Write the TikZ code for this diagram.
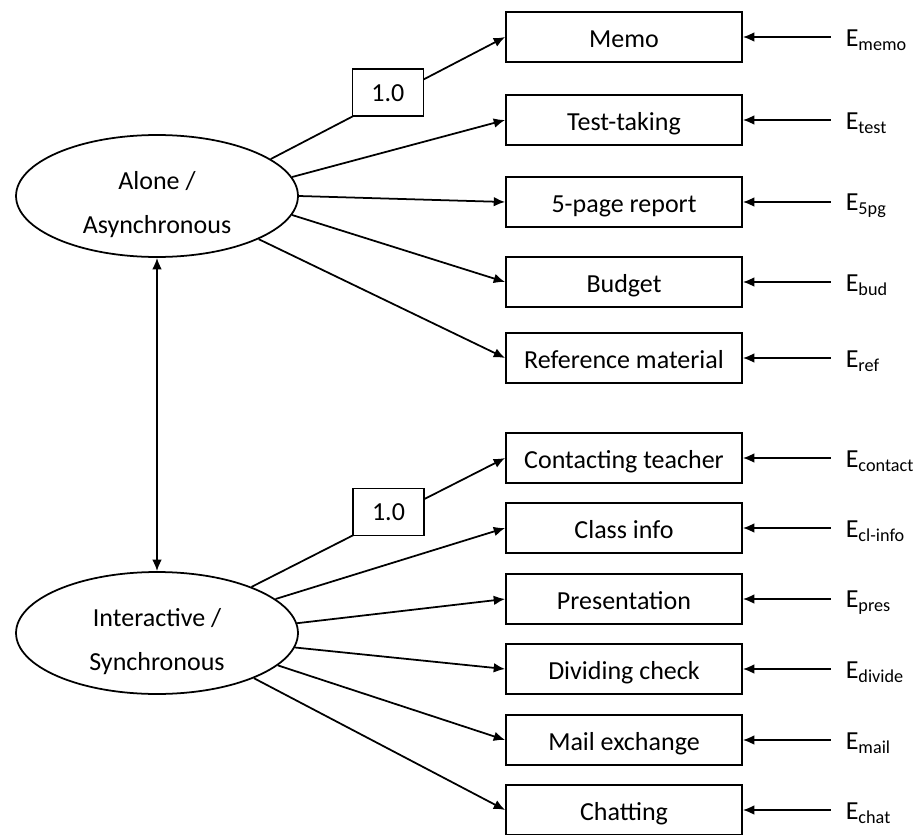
\documentclass[tikz,border=0pt]{standalone}
\usepackage{fontspec}
\setmainfont{Carlito}
\usetikzlibrary{arrows,arrows.meta}
\usetikzlibrary{positioning}
\usetikzlibrary{shapes.geometric}

\begin{document}
\begin{tikzpicture}[x=0.02cm, y=-0.02cm, line width=1pt, >={Latex[length=6.5pt,width=5.5pt]},
    font=\fontsize{14.8}{17.5}\selectfont,
    factor/.style={draw, ellipse, minimum width=5.64cm, minimum height=2.44cm, align=center, inner sep=0pt},
    item/.style={draw, rectangle, minimum width=4.72cm, minimum height=1cm, inner sep=2pt, text height=12pt, text depth=0pt},
    load/.style={draw, fill=white, minimum width=1.42cm, minimum height=0.94cm, yshift=3pt},
    err/.style={right, xshift=5pt, yshift=-2pt, inner sep=3pt}]
    \useasboundingbox (0,0) rectangle (917,835);
    % factors
    \node[factor] (alone) at (157,196) {\rule{0pt}{20pt}Alone /\\[8pt]Asynchronous};
    \node[factor] (inter) at (157,633) {\rule{0pt}{20pt}Interactive /\\[8pt]Synchronous};
    \draw[<->] (alone) -- (inter);
    % items, first factor
    \node[item] (memo) at (624,37) {Memo};
    \node[item] (test) at (624,120) {Test-taking};
    \node[item] (rpt) at (624,202) {5-page report};
    \node[item] (bud) at (624,282) {Budget};
    \node[item] (ref) at (624,358) {Reference material};
    % items, second factor
    \node[item] (contact) at (624,458) {Contacting teacher};
    \node[item] (clinfo) at (624,528) {Class info};
    \node[item] (pres) at (624,599) {Presentation};
    \node[item] (divide) at (624,669) {Dividing check};
    \node[item] (mail) at (624,740) {Mail exchange};
    \node[item] (chat) at (624,810) {Chatting};
    % loadings
    \draw[->] (alone.18) -- node[load] (l1) {1.0} (memo.west);
    \draw[->] (alone.8) -- (test.west);
    \draw[->] (alone.0) -- (rpt.west);
    \draw[->] (alone.-8) -- (bud.west);
    \draw[->] (alone.-23) -- (ref.west);
    \draw[->] (inter.26) -- node[load, pos=0.54] (l2) {1.0} (contact.west);
    \draw[->] (inter.16) -- (clinfo.west);
    \draw[->] (inter.4) -- (pres.west);
    \draw[->] (inter.-6) -- (divide.west);
    \draw[->] (inter.-15) -- (mail.west);
    \draw[->] (inter.-25) -- (chat.west);
    % errors
    \draw[<-] (memo.east) -- ++(88,0) node[err] (ememo) {E\textsubscript{memo}};
    \draw[<-] (test.east) -- ++(88,0) node[err] (etest) {E\textsubscript{test}};
    \draw[<-] (rpt.east) -- ++(88,0) node[err] (erpt) {E\textsubscript{5pg}};
    \draw[<-] (bud.east) -- ++(88,0) node[err] (ebud) {E\textsubscript{bud}};
    \draw[<-] (ref.east) -- ++(88,0) node[err] (eref) {E\textsubscript{ref}};
    \draw[<-] (contact.east) -- ++(88,0) node[err] (econtact) {E\textsubscript{contact}};
    \draw[<-] (clinfo.east) -- ++(88,0) node[err] (eclinfo) {E\textsubscript{cl-info}};
    \draw[<-] (pres.east) -- ++(88,0) node[err] (epres) {E\textsubscript{pres}};
    \draw[<-] (divide.east) -- ++(88,0) node[err] (edivide) {E\textsubscript{divide}};
    \draw[<-] (mail.east) -- ++(88,0) node[err] (email) {E\textsubscript{mail}};
    \draw[<-] (chat.east) -- ++(88,0) node[err] (echat) {E\textsubscript{chat}};
\end{tikzpicture}
\end{document}
